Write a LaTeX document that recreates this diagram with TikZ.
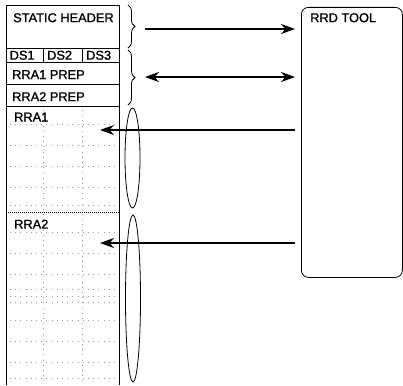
\documentclass[tikz,border=0pt]{standalone}
\usepackage{fontspec}
\setmainfont{Liberation Sans}
\newfontfamily\lblfont[RawFeature={embolden=1.2}]{Liberation Sans}
\usetikzlibrary{arrows.meta,decorations.pathreplacing,shapes.geometric}
\begin{document}
\begin{tikzpicture}[x=1pt,y=-1pt,
  cell/.style={draw,line width=0.8pt,inner sep=0pt,anchor=north west},
  lbl/.style={font=\lblfont\fontsize{12.8}{13}\selectfont,inner sep=0pt,anchor=north west},
  bigarrow/.style={line width=1.9pt,-{Stealth[length=14pt,width=10pt]}},
  dbarrow/.style={line width=1.9pt,{Stealth[length=14pt,width=10pt]}-{Stealth[length=14pt,width=10pt]}},
  bracket/.style={decorate,decoration={brace,amplitude=7pt},line width=0.8pt},
  loop/.style={draw,ellipse,line width=0.8pt,inner sep=0pt},
  griddots/.style={gray!80,line width=0.7pt,dash pattern=on 0.7pt off 4.5pt}]
\useasboundingbox (0,0) rectangle (403,385);

% memory layout column
\node[cell,minimum width=113pt,minimum height=43pt] (hdr) at (6,5) {};
\node[cell,minimum width=37pt,minimum height=14pt] (ds1) at (6,48) {};
\node[cell,minimum width=39pt,minimum height=14pt] (ds2) at (43,48) {};
\node[cell,minimum width=37pt,minimum height=14pt] (ds3) at (82,48) {};
\node[cell,minimum width=113pt,minimum height=22pt] (prep1) at (6,62) {};
\node[cell,minimum width=113pt,minimum height=22pt] (prep2) at (6,84) {};

% archive areas (open at the bottom)
\draw[line width=0.8pt] (6,385) -- (6,106) -- (119,106) -- (119,385);
\draw[line width=0.8pt,dash pattern=on 1pt off 1pt] (6,212) -- (119,212);
\coordinate (rra1) at (6,106);
\coordinate (rra2) at (6,212);

% sparse dot grid inside the archive areas
\foreach \yy in {124,145,166,187,205,232,253,274,289,296,302,320,341,362,378}
  \draw[griddots] (10,\yy) -- (117,\yy);
\foreach \xx in {43,82}
  \draw[griddots] (\xx,110) -- (\xx,385);

% labels
\node[lbl] at (13,13) {STATIC HEADER};
\node[lbl] at (9.5,50.5) {DS1};
\node[lbl] at (47,50.5) {DS2};
\node[lbl] at (86,50.5) {DS3};
\node[lbl] at (12,70) {RRA1 PREP};
\node[lbl] at (12,92) {RRA2 PREP};
\node[lbl] at (14,112.5) {RRA1};
\node[lbl] at (14,219.5) {RRA2};

% tool box
\node[draw,line width=0.8pt,rounded corners=7pt,minimum width=101pt,minimum height=270pt,anchor=north west] (tool) at (301,7) {};
\node[lbl] at (310,13) {RRD TOOL};

% braces grouping header and prep areas
\draw[bracket] (128,5) -- (128,48);
\draw[bracket] (128,50) -- (128,105);

% ellipses marking archive positions
\node[loop,minimum width=15pt,minimum height=100pt] (e1) at (132.5,158) {};
\node[loop,minimum width=15pt,minimum height=167pt] (e2) at (133,298.5) {};

% connectors
\coordinate (s1) at (145,29);
\coordinate (s2) at (145,77);
\coordinate (t3) at (100,130);
\coordinate (t4) at (100,243);
\draw[bigarrow,shorten >=6pt] (s1) -- (tool.west |- s1);
\draw[dbarrow,shorten >=6pt] (s2) -- (tool.west |- s2);
\draw[bigarrow,shorten <=6pt] (tool.west |- t3) -- (t3);
\draw[bigarrow,shorten <=6pt] (tool.west |- t4) -- (t4);
\end{tikzpicture}
\end{document}
